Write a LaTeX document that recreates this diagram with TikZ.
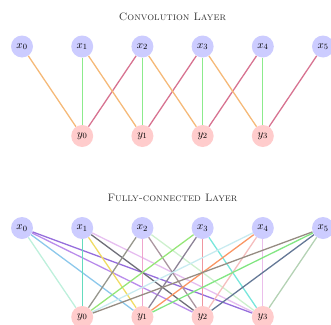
\documentclass[tikz,border=0pt]{standalone}
\usetikzlibrary{backgrounds}
\definecolor{cOr}{RGB}{245,185,120}
\definecolor{cGr}{RGB}{140,235,140}
\definecolor{cRd}{RGB}{215,115,145}
\definecolor{a00}{RGB}{190,240,220}
\definecolor{a01}{RGB}{140,200,235}
\definecolor{a02}{RGB}{185,140,235}
\definecolor{a03}{RGB}{150,110,220}
\definecolor{a10}{RGB}{100,220,190}
\definecolor{a11}{RGB}{240,220,100}
\definecolor{a12}{RGB}{110,110,120}
\definecolor{a13}{RGB}{230,190,240}
\definecolor{a20}{RGB}{150,150,140}
\definecolor{a21}{RGB}{240,165,205}
\definecolor{a22}{RGB}{170,150,160}
\definecolor{a23}{RGB}{205,240,205}
\definecolor{a30}{RGB}{150,230,120}
\definecolor{a31}{RGB}{140,130,150}
\definecolor{a32}{RGB}{240,150,160}
\definecolor{a33}{RGB}{120,230,220}
\definecolor{a40}{RGB}{200,235,240}
\definecolor{a41}{RGB}{250,150,100}
\definecolor{a42}{RGB}{245,190,190}
\definecolor{a43}{RGB}{235,190,235}
\definecolor{a50}{RGB}{150,140,130}
\definecolor{a51}{RGB}{130,230,130}
\definecolor{a52}{RGB}{100,120,150}
\definecolor{a53}{RGB}{180,210,180}
\tikzset{
  xn/.style={circle,fill=blue!20,minimum size=22pt,inner sep=0pt,font=\fontsize{11}{13}\selectfont},
  yn/.style={circle,fill=red!20,minimum size=22pt,inner sep=0pt,font=\fontsize{11}{13}\selectfont},
  ed/.style={line width=1.3pt},
  ttl/.style={font=\fontsize{10.8}{13}\selectfont\scshape, text=black!80}
}
\begin{document}
\begin{tikzpicture}[x=1pt,y=-1pt]
\useasboundingbox (0,0) rectangle (331,324);
% Convolution layer
\node[ttl] (t1) at (172.5,16.5) {Convolution Layer};
\foreach \i in {0,...,5} {
  \node[xn] (cx\i) at ({22+60.2*\i},46.5) {$x_{\i}$};
}
\foreach \j in {0,...,3} {
  \node[yn] (cy\j) at ({82.2+60.2*\j},136) {$y_{\j}$};
}
\begin{scope}[on background layer]
\foreach \j [evaluate=\j as \a using int(\j+1), evaluate=\j as \b using int(\j+2)] in {0,...,3} {
  \draw[ed,cOr] (cx\j) -- (cy\j);
  \draw[ed,cGr] (cx\a) -- (cy\j);
  \draw[ed,cRd] (cx\b) -- (cy\j);
}
\end{scope}
% Fully-connected layer
\node[ttl] (t2) at (172.5,197.5) {Fully-connected Layer};
\foreach \i in {0,...,5} {
  \node[xn] (fx\i) at ({22+60.2*\i},228) {$x_{\i}$};
}
\foreach \j in {0,...,3} {
  \node[yn] (fy\j) at ({82.2+60.2*\j},317) {$y_{\j}$};
}
\begin{scope}[on background layer]
\foreach \i in {0,...,5} {
  \foreach \j in {0,...,3} {
    \draw[ed,a\i\j] (fx\i) -- (fy\j);
  }
}
\end{scope}
\end{tikzpicture}
\end{document}
